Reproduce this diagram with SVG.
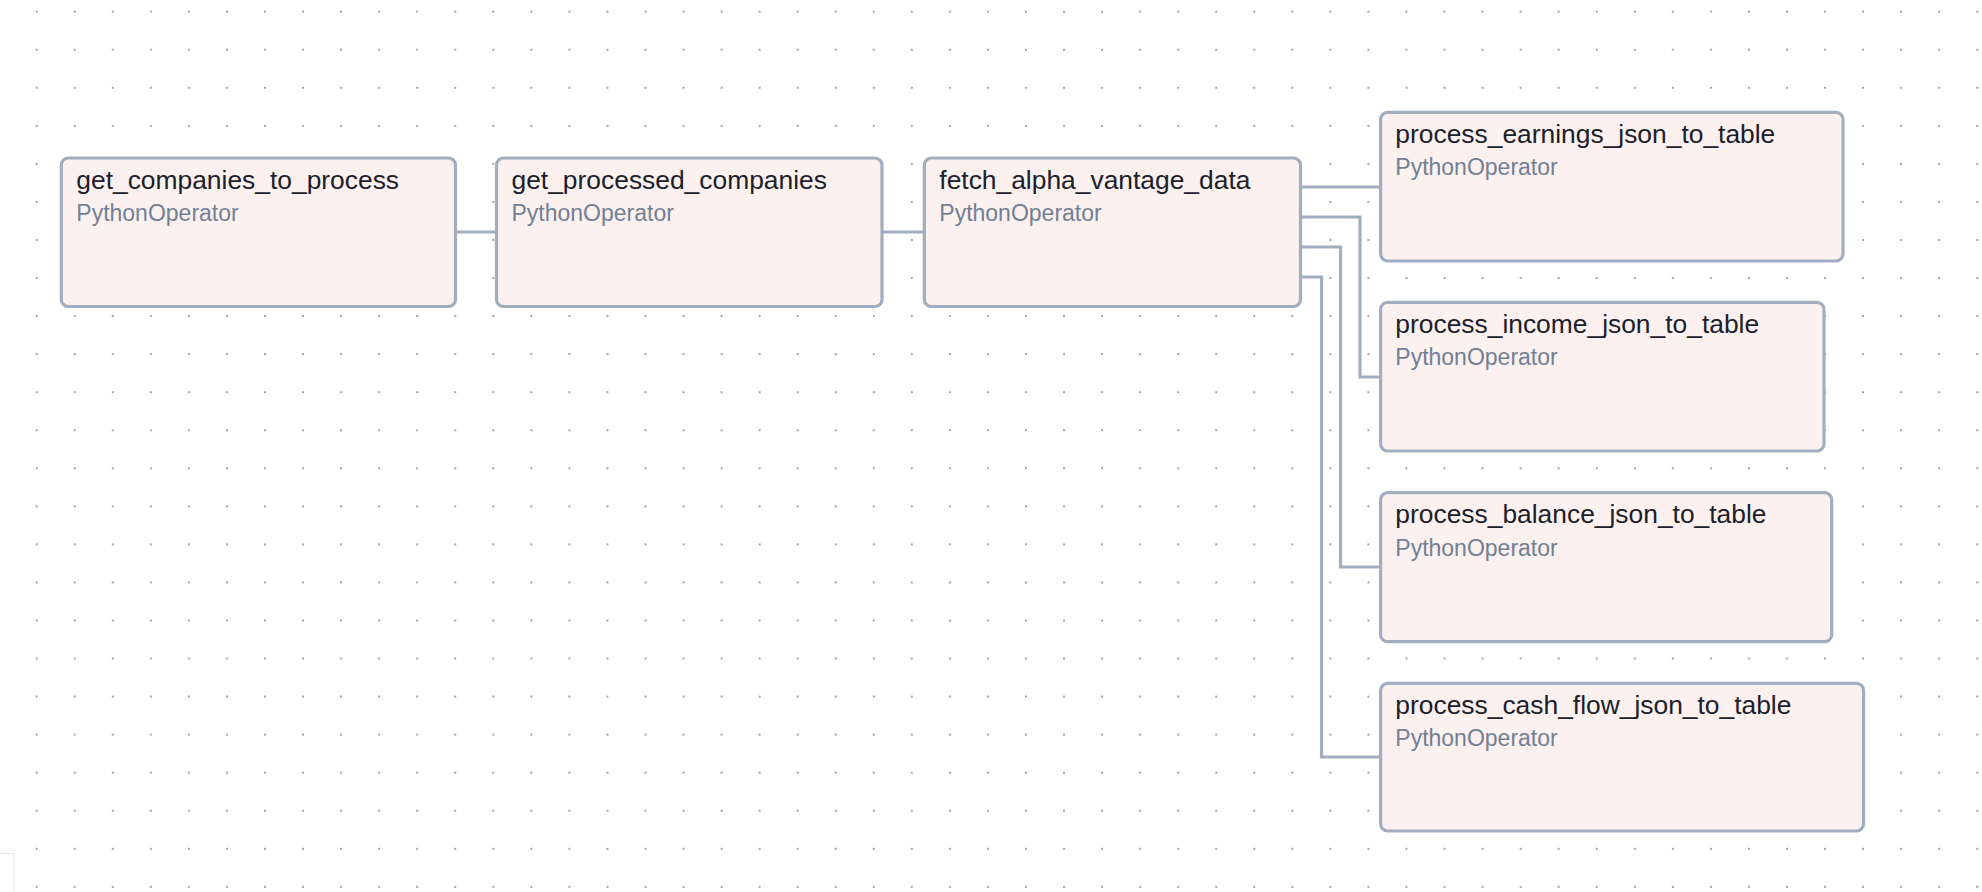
<svg xmlns="http://www.w3.org/2000/svg" width="1982" height="892" viewBox="0 0 1982 892">
  <defs>
    <pattern id="dots" x="35.7" y="10.7" width="38.05" height="38.05" patternUnits="userSpaceOnUse">
      <rect x="0" y="0" width="2" height="2" fill="#a3a3a3"/>
    </pattern>
    <style>
      .node rect { fill: #fcf1ee; stroke: #a0aec0; stroke-width: 3.2; }
      .title { font-family: "Liberation Sans", Arial, Helvetica, sans-serif; font-size: 26.4px; fill: #1a202c; }
      .sub { font-family: "Liberation Sans", Arial, Helvetica, sans-serif; font-size: 23px; fill: #718096; }
      .edge { fill: none; stroke: #a0aec0; stroke-width: 3.2; }
    </style>
  </defs>
  <rect x="0" y="0" width="1982" height="892" fill="#ffffff"/>
  <rect x="0" y="0" width="1982" height="892" fill="url(#dots)"/>
  <rect x="-6" y="853.5" width="20" height="50" fill="#ffffff" stroke="#e6e6e6" stroke-width="1"/>

  <g id="connectors">
    <path class="edge" d="M455.5 232 H496.5"/>
    <path class="edge" d="M882 232 H924.3"/>
    <path class="edge" d="M1300.5 187 H1380.6"/>
    <path class="edge" d="M1300.5 217 H1360 V377 H1380.6"/>
    <path class="edge" d="M1300.5 247 H1340.5 V567 H1380.6"/>
    <path class="edge" d="M1300.5 277 H1321.5 V757 H1380.6"/>
  </g>

  <g id="get_companies_to_process" class="node">
    <rect x="61.3" y="158" width="394.2" height="148.5" rx="7"/>
    <text class="title" x="76.3" y="188.5">get_companies_to_process</text>
    <text class="sub" x="76.3" y="221">PythonOperator</text>
  </g>
  <g id="get_processed_companies" class="node">
    <rect x="496.5" y="158" width="385.5" height="148.5" rx="7"/>
    <text class="title" x="511.5" y="188.5">get_processed_companies</text>
    <text class="sub" x="511.5" y="221">PythonOperator</text>
  </g>
  <g id="fetch_alpha_vantage_data" class="node">
    <rect x="924.3" y="158" width="376.2" height="148.5" rx="7"/>
    <text class="title" x="939.3" y="188.5">fetch_alpha_vantage_data</text>
    <text class="sub" x="939.3" y="221">PythonOperator</text>
  </g>
  <g id="process_earnings_json_to_table" class="node">
    <rect x="1380.6" y="112.3" width="462.4" height="148.7" rx="7"/>
    <text class="title" x="1395.3" y="142.8">process_earnings_json_to_table</text>
    <text class="sub" x="1395.3" y="175.3">PythonOperator</text>
  </g>
  <g id="process_income_json_to_table" class="node">
    <rect x="1380.6" y="302.3" width="443.4" height="148.7" rx="7"/>
    <text class="title" x="1395.3" y="332.8">process_income_json_to_table</text>
    <text class="sub" x="1395.3" y="365.3">PythonOperator</text>
  </g>
  <g id="process_balance_json_to_table" class="node">
    <rect x="1380.6" y="492.7" width="451.1" height="149" rx="7"/>
    <text class="title" x="1395.3" y="523.2">process_balance_json_to_table</text>
    <text class="sub" x="1395.3" y="555.7">PythonOperator</text>
  </g>
  <g id="process_cash_flow_json_to_table" class="node">
    <rect x="1380.6" y="683.3" width="483" height="147.7" rx="7"/>
    <text class="title" x="1395.3" y="713.8">process_cash_flow_json_to_table</text>
    <text class="sub" x="1395.3" y="746.3">PythonOperator</text>
  </g>
</svg>
